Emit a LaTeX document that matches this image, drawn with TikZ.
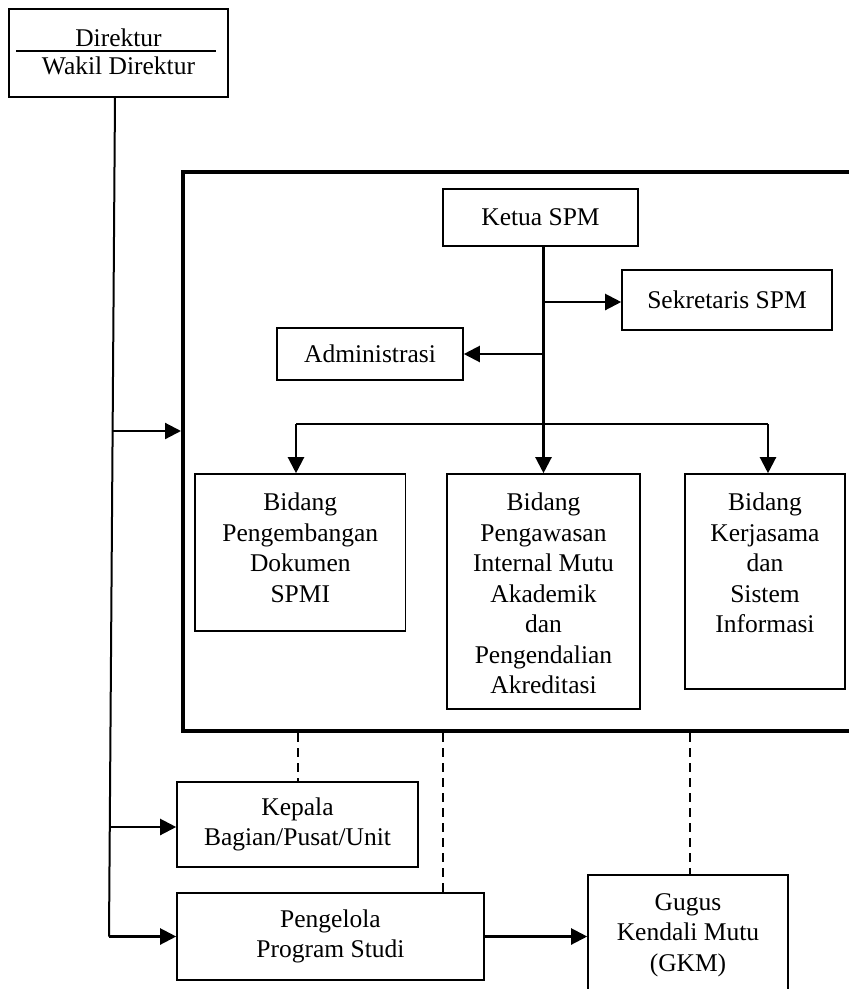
\documentclass[tikz,border=0pt]{standalone}
\usepackage{fontspec}
\setmainfont{Liberation Serif}
\usetikzlibrary{arrows.meta}
\tikzset{
  box/.style={draw, line width=1.6pt, rectangle, inner sep=0pt, align=center,
    font=\fontsize{25.5}{30.5}\selectfont},
  txt/.style={inner sep=0pt, align=center, font=\fontsize{25.5}{30.5}\selectfont},
  bigbox/.style={draw, line width=4pt, rectangle, inner sep=0pt},
  conn/.style={line width=2pt},
  arr/.style={line width=2.2pt, -{Triangle[length=16pt,width=16pt]}},
  dsh/.style={line width=2pt, dash pattern=on 9pt off 6pt}
}
\begin{document}
\begin{tikzpicture}[x=1pt,y=-1pt]
\clip (0,0) rectangle (849,989);
\fill[white] (0,0) rectangle (849,989);

% Direktur box
\node[box, minimum width=219pt, minimum height=88pt] (dir) at (118.5,53) {};
\node[txt, anchor=base] (dirt) at (118.5,46) {Direktur};
\node[txt, anchor=base] (wdirt) at (118.5,74) {Wakil Direktur};
\coordinate (rl) at (16,51);
\coordinate (rr) at (216,51);
\draw[line width=1.6pt] (rl) -- (rr);

% big SPM box
\node[bigbox, minimum width=677pt, minimum height=559pt] (spm) at (521.5,451.5) {};

% inner nodes
\node[box, minimum width=195pt, minimum height=57pt] (ketua) at (540.5,217.5) {Ketua SPM};
\node[box, minimum width=210pt, minimum height=60pt] (sek) at (727,300) {Sekretaris SPM};
\node[box, minimum width=186pt, minimum height=52pt] (adm) at (370,354) {Administrasi};

\node[box, minimum width=210.6pt, minimum height=157pt] (b1) at (300.3,552.5) {};
\node[box, minimum width=193pt, minimum height=235pt] (b2) at (543.5,591.5) {};
\node[box, minimum width=160pt, minimum height=215pt] (b3) at (765,581.5) {};
\node[txt, anchor=north] (t1) at (300.3,493) {Bidang\\Pengembangan\\Dokumen\\SPMI};
\node[txt, anchor=north] (t2) at (543.5,493) {Bidang\\Pengawasan\\Internal Mutu\\Akademik\\dan\\Pengendalian\\Akreditasi};
\node[txt, anchor=north] (t3) at (765,493) {Bidang\\Kerjasama\\dan\\Sistem\\Informasi};

% lower nodes
\node[box, minimum width=241pt, minimum height=85pt] (kep) at (297.5,824.5) {Kepala\\Bagian/Pusat/Unit};
\node[box, minimum width=307pt, minimum height=87pt] (peng) at (330.5,936.5) {Pengelola\\Program Studi};
\node[box, minimum width=200pt, minimum height=120pt] (gkm) at (688,935) {Gugus\\Kendali Mutu\\(GKM)};

% trunk from Direktur
\coordinate (ttop) at (115,97);
\coordinate (j1) at (112,431);
\coordinate (j2) at (109.5,827);
\coordinate (tend) at (109,936.5);
\draw[conn] (ttop) -- (tend);
\draw[arr] (j1) -- (j1 -| spm.west);
\draw[arr] (j2) -- (j2 -| kep.west);
\draw[arr] (tend) -- (tend -| peng.west);

% Ketua connections
\coordinate (kx) at (544,302);
\coordinate (kx2) at (544,354);
\draw[arr] (ketua.south -| b2.north) -- (b2.north);
\draw[arr] (kx) -- (kx -| sek.west);
\draw[arr] (kx2) -- (kx2 -| adm.east);
\coordinate (brL) at (296,424);
\coordinate (brR) at (768,424);
\draw[conn] (brL) -- (brR);
\draw[arr] (brL) -- (brL |- b1.north);
\draw[arr] (brR) -- (brR |- b3.north);

% dashed links
\coordinate (d1) at (298,0);
\coordinate (d2) at (443,0);
\coordinate (d3) at (690,0);
\draw[dsh] (spm.south -| d1) -- (kep.north -| d1);
\draw[dsh] (spm.south -| d2) -- (peng.north -| d2);
\draw[dsh] (spm.south -| d3) -- (gkm.north -| d3);

% Pengelola to GKM
\draw[arr] (peng.east) -- (peng.east -| gkm.west);
\end{tikzpicture}
\end{document}
